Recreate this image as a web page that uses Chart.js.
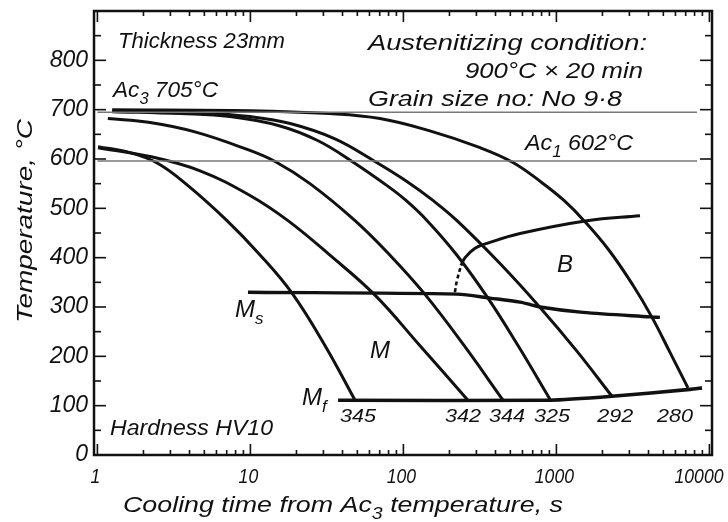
<!doctype html>
<html>
<head>
<meta charset="utf-8">
<title>CCT diagram</title>
<script src="https://cdn.jsdelivr.net/npm/chart.js@4.4.9/dist/chart.umd.min.js"></script>
<style>
body { margin: 0; background: #fff; }
</style>
</head>
<body>
<canvas id="cct" width="728" height="522"></canvas>
<script>
// cooling curves, time in s and temperature in °C
const hv345Time = [1.01, 1.63, 2.49, 3.91, 7.03, 11.6, 18.7, 30.7, 48.3];
const hv345Temp = [625, 613, 591, 546, 475, 405, 328, 222, 111];
const hv342Time = [1.01, 2.21, 4.69, 9.94, 17.6, 33.1, 65.2, 128, 264];
const hv342Temp = [623, 605, 576, 526, 475, 405, 324, 222, 111];
const hv344Time = [1.17, 2.21, 4.34, 9.22, 14.5, 24.5, 48.3, 81.7, 138, 249, 448];
const hv344Temp = [682, 674, 655, 621, 595, 550, 475, 405, 326, 222, 111];
const hv325Time = [1.25, 3.48, 7.36, 15.6, 27.7, 46.2, 78.2, 104, 143, 224, 357, 561, 908];
const hv325Temp = [696, 692, 686, 667, 637, 595, 546, 516, 475, 405, 318, 222, 113];
const hv292Time = [1.25, 4.69, 9.94, 18.2, 35.7, 65.2, 106, 156, 224, 428, 782, 1365, 2308];
const hv292Temp = [698, 694, 686, 672, 641, 595, 554, 516, 475, 388, 299, 210, 119];
const hv280Time = [1.25, 9.94, 33.1, 70.3, 149, 317, 520, 805, 1121, 1515, 2207, 3167, 4217, 5526, 7244];
const hv280Temp = [700, 698, 692, 682, 657, 623, 593, 552, 516, 475, 415, 344, 279, 208, 136];

// transformation lines
const msTime = [9.64, 224, 368, 578, 782, 1493, 4090, 4750];
const msTemp = [330, 326, 318, 310, 300, 289, 280, 279];
const mfTime = [37.4, 908, 2308, 7460, 8950];
const mfTemp = [111, 111, 119, 133, 136];
const bDashTime = [217, 224, 238];
const bDashTemp = [330, 354, 384];
const bTime = [238, 253, 294, 352, 578, 1585, 3519];
const bTemp = [384, 400, 419, 429, 449, 475, 485];

// Ac3 / Ac1 reference lines
const acTime = [1, 8300];
const ac3Temp = [695, 695];
const ac1Temp = [596, 596];

// hardness labels at the ends of the curves
const hvLabels = ['345', '342', '344', '325', '292', '280'];
const hvTime = [50.5, 245, 476, 937, 2422, 5960];
const hvTemp = 67;

const xTickLabels = [1, 10, 100, 1000, 10000];

const FONT = '"Liberation Sans", Arial, sans-serif';

function pts(xs, ys) {
  return xs.map((x, i) => ({ x: x, y: ys[i] }));
}

function curve(xs, ys, extra) {
  return Object.assign({
    data: pts(xs, ys),
    borderColor: '#111',
    borderWidth: 3,
    pointRadius: 0,
    fill: false,
    tension: 0.4
  }, extra || {});
}

// italic text, "_x" makes x a subscript, optional width squeezes it to fit
function rich(ctx, text, x, y, size, width, align) {
  const parts = text.split(/_(.)/);
  const main = 'italic ' + size + 'px ' + FONT;
  const sub = 'italic ' + Math.round(size * 0.72) + 'px ' + FONT;
  let w = 0;
  parts.forEach((p, i) => { ctx.font = i % 2 ? sub : main; w += ctx.measureText(p).width; });
  const sx = width ? width / w : 1;
  const total = w * sx;
  let x0 = x;
  if (align === 'center') x0 = x - total / 2;
  if (align === 'right') x0 = x - total;
  ctx.save();
  ctx.translate(x0, y);
  ctx.scale(sx, 1);
  ctx.fillStyle = '#111';
  ctx.textAlign = 'left';
  ctx.textBaseline = 'alphabetic';
  let cx = 0;
  parts.forEach((p, i) => {
    ctx.font = i % 2 ? sub : main;
    ctx.fillText(p, cx, i % 2 ? size * 0.3 : 0);
    cx += ctx.measureText(p).width;
  });
  ctx.restore();
}

const frame = {
  id: 'frame',
  afterDatasetsDraw(chart) {
    const { ctx, chartArea: a, scales: { x, y } } = chart;
    const seg = (x1, y1, x2, y2) => { ctx.beginPath(); ctx.moveTo(x1, y1); ctx.lineTo(x2, y2); ctx.stroke(); };
    ctx.save();
    ctx.strokeStyle = '#111';
    ctx.lineWidth = 2.5;
    ctx.strokeRect(a.left, a.top, a.right - a.left, a.bottom - a.top);

    ctx.lineWidth = 1.6;
    for (let v = 50; v < 900; v += 50) {
      const py = y.getPixelForValue(v);
      const len = v % 100 ? 7 : 12;
      seg(a.left, py, a.left + len, py);
      seg(a.right, py, a.right - len, py);
    }
    for (let d = 1; d <= 10000; d *= 10) {
      for (let m = 1; m < 10; m++) {
        const v = d * m;
        if (v > 10000) break;
        const px = x.getPixelForValue(v);
        if (px <= a.left + 2 || px >= a.right - 2) continue;
        const len = m === 1 ? 11 : 5;
        seg(px, a.bottom, px, a.bottom - len);
        seg(px, a.top, px, a.top + len);
      }
    }
    ctx.restore();
  },
  afterDraw(chart) {
    const { ctx, scales: { x, y } } = chart;

    // x tick labels
    xTickLabels.forEach(v => {
      let px = x.getPixelForValue(v) - 2;
      if (v === 10000) px = 699;
      const w = String(v).length * 9.8;
      rich(ctx, String(v), px, 483, 21, w, 'center');
    });

    // axis titles
    rich(ctx, 'Cooling time from Ac_3 temperature, s', 123, 512, 22, 440, 'left');
    ctx.save();
    ctx.translate(32, 221);
    ctx.rotate(-Math.PI / 2);
    rich(ctx, 'Temperature, °C', 0, 0, 22, 204, 'center');
    ctx.restore();

    // notes
    rich(ctx, 'Thickness 23mm', 118, 48, 22, 167, 'left');
    rich(ctx, 'Austenitizing condition:', 368, 50, 22, 279, 'left');
    rich(ctx, '900°C × 20 min', 643, 78, 22, 178, 'right');
    rich(ctx, 'Grain size no: No 9·8', 368, 106, 22, 254, 'left');
    rich(ctx, 'Ac_3 705°C', 113, 97, 22, 105, 'left');
    rich(ctx, 'Ac_1 602°C', 525, 150, 22, 108, 'left');
    rich(ctx, 'B', 557, 272, 24, 0, 'left');
    rich(ctx, 'M_s', 235, 317, 24, 0, 'left');
    rich(ctx, 'M', 370, 358, 24, 0, 'left');
    rich(ctx, 'M_f', 302, 405, 24, 0, 'left');
    rich(ctx, 'Hardness HV10', 110, 435, 22, 163, 'left');

    hvLabels.forEach((t, i) => {
      rich(ctx, t, x.getPixelForValue(hvTime[i]), y.getPixelForValue(hvTemp), 19, 36, 'center');
    });
  }
};

new Chart(document.getElementById('cct'), {
  type: 'line',
  data: {
    datasets: [
      curve(acTime, ac3Temp, { borderColor: '#777', borderWidth: 1.5, tension: 0 }),
      curve(acTime, ac1Temp, { borderColor: '#777', borderWidth: 1.5, tension: 0 }),
      curve(hv345Time, hv345Temp),
      curve(hv342Time, hv342Temp),
      curve(hv344Time, hv344Temp),
      curve(hv325Time, hv325Temp),
      curve(hv292Time, hv292Temp),
      curve(hv280Time, hv280Temp),
      curve(msTime, msTemp, { borderWidth: 3.4, tension: 0.3 }),
      curve(mfTime, mfTemp, { borderWidth: 3.6, tension: 0.2 }),
      curve(bDashTime, bDashTemp, { borderWidth: 2.6, borderDash: [4, 3] }),
      curve(bTime, bTemp, { borderWidth: 3 })
    ]
  },
  options: {
    responsive: false,
    animation: false,
    devicePixelRatio: 1,
    events: [],
    layout: { padding: { left: 0, right: 16, top: 11, bottom: 0 } },
    plugins: {
      legend: { display: false },
      tooltip: { enabled: false }
    },
    scales: {
      x: {
        type: 'logarithmic',
        min: 0.95,
        max: 10400,
        grid: { display: false, drawTicks: false },
        border: { display: false },
        ticks: { display: false },
        afterFit: s => { s.height = 67; s.paddingLeft = 0; s.paddingRight = 0; }
      },
      y: {
        type: 'linear',
        min: 0,
        max: 900,
        grid: { display: false, drawTicks: false },
        border: { display: false },
        ticks: {
          stepSize: 100,
          padding: 6,
          color: '#111',
          font: { family: FONT, style: 'italic', size: 23 },
          callback: v => (v <= 800 ? v : '')
        },
        afterFit: s => { s.width = 94; s.paddingTop = 0; s.paddingBottom = 0; }
      }
    }
  },
  plugins: [frame]
});
</script>
</body>
</html>
